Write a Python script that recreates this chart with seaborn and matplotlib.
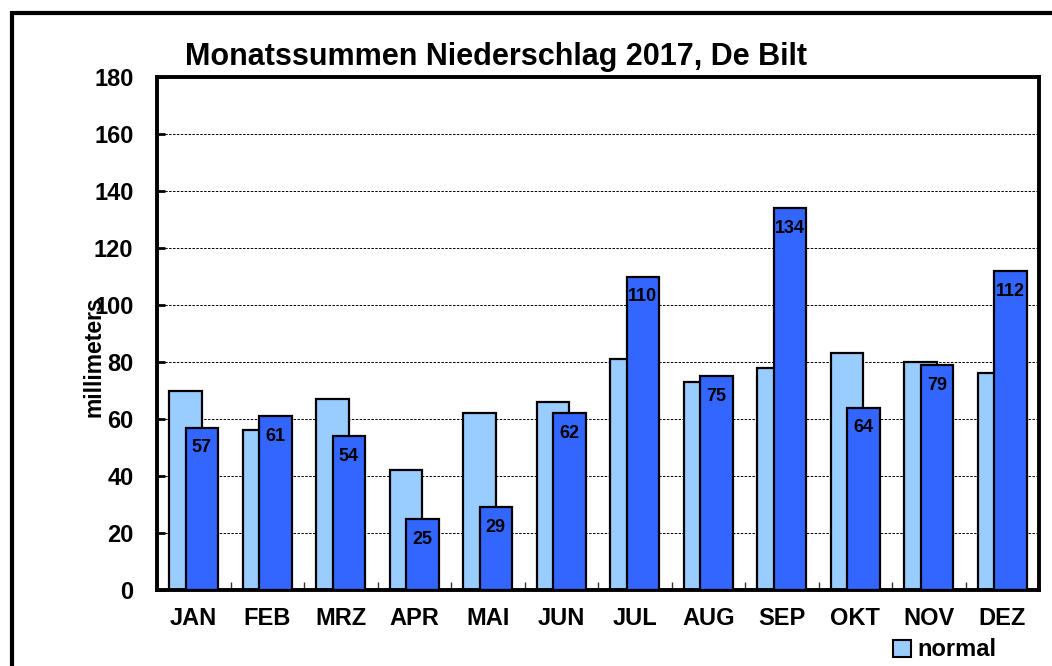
import numpy as np
import pandas as pd
import matplotlib
matplotlib.use("Agg")
import matplotlib.pyplot as plt
import seaborn as sns
from matplotlib.patches import Rectangle
from matplotlib.ticker import FixedLocator

months = ["JAN", "FEB", "MRZ", "APR", "MAI", "JUN", "JUL", "AUG", "SEP", "OKT", "NOV", "DEZ"]
normal = [70, 56, 67, 42, 62, 66, 81, 73, 78, 83, 80, 76]
actual_2017 = [57, 61, 54, 25, 29, 62, 110, 75, 134, 64, 79, 112]
y_ticks = [0, 20, 40, 60, 80, 100, 120, 140, 160, 180]
title = "Monatssummen Niederschlag 2017, De Bilt"
y_label = "millimeters"
legend_label = "normal"

sns.set_theme(style="white")
plt.rcParams["font.family"] = ["Liberation Sans", "DejaVu Sans"]
plt.rcParams["text.color"] = "black"
plt.rcParams["axes.labelcolor"] = "black"
plt.rcParams["xtick.color"] = "black"
plt.rcParams["ytick.color"] = "black"

fig = plt.figure(figsize=(10.52, 6.66), dpi=100)
ax = fig.add_axes([157 / 1052, 1 - 590 / 666, (1039 - 157) / 1052, (590 - 77) / 666])

pos = np.arange(len(months))
off = 0.11
bw = 0.44
df_n = pd.DataFrame({"x": pos - off, "v": normal})
df_a = pd.DataFrame({"x": pos + off, "v": actual_2017})

sns.barplot(data=df_n, x="x", y="v", native_scale=True, width=bw, color="#99CCFF",
            saturation=1, edgecolor="black", linewidth=1.6, ax=ax, zorder=2)
sns.barplot(data=df_a, x="x", y="v", native_scale=True, width=bw, color="#3366FF",
            saturation=1, edgecolor="black", linewidth=1.6, ax=ax, zorder=3)

for patch, v in zip(ax.containers[1], actual_2017):
    cx = patch.get_x() + patch.get_width() / 2
    ax.annotate(str(v), (cx, patch.get_height()), xytext=(0, -8.5), textcoords="offset points",
                ha="center", va="top", fontsize=13, fontweight="bold", color="black", zorder=4)

ax.set_xlim(-0.5, len(months) - 0.5)
ax.set_ylim(0, 180)
ax.set_yticks(y_ticks)
ax.set_yticklabels([str(t) for t in y_ticks], fontsize=17, fontweight="bold")
ax.set_xticks(pos)
ax.set_xticklabels(months, fontsize=17, fontweight="bold")
ax.xaxis.set_minor_locator(FixedLocator(pos[:-1] + 0.5))
ax.tick_params(axis="x", which="major", length=0, pad=12)
ax.tick_params(axis="x", which="minor", direction="in", length=6, width=1, bottom=True, color="#333333")
ax.tick_params(axis="y", which="major", direction="in", length=6, width=2, left=True, pad=17)
ax.set_xlabel("")
ax.set_ylabel("")

for y in y_ticks[1:-1]:
    ax.axhline(y, color="black", linestyle=(0, (2.5, 1.5)), linewidth=0.7, zorder=1)

for s in ax.spines.values():
    s.set_visible(True)
    s.set_color("black")
    s.set_linewidth(2.8)
ax.set_facecolor("white")

fig.text(496 / 1052, 1 - 57 / 666, title, ha="center", va="center",
         fontsize=22, fontweight="bold")
fig.text(94 / 1052, 1 - 357 / 666, y_label, ha="center", va="center",
         rotation=90, fontsize=16.5, fontweight="bold")

handle = Rectangle((0, 0), 1, 1, facecolor="#99CCFF", edgecolor="black", linewidth=1.5)
fig.legend([handle], [legend_label], loc="center left",
           bbox_to_anchor=(893 / 1052, 1 - 650 / 666), frameon=False,
           handlelength=0.75, handleheight=0.75, handletextpad=0.3, borderpad=0,
           borderaxespad=0, prop={"size": 17, "weight": "bold"})

frame = Rectangle((12 / 1052, -0.1), 1.2, 1 - 13 / 666 + 0.1, transform=fig.transFigure,
                  fill=False, edgecolor="black", linewidth=3, zorder=0)
fig.patches.append(frame)

fig.savefig("out.png", dpi=100)
